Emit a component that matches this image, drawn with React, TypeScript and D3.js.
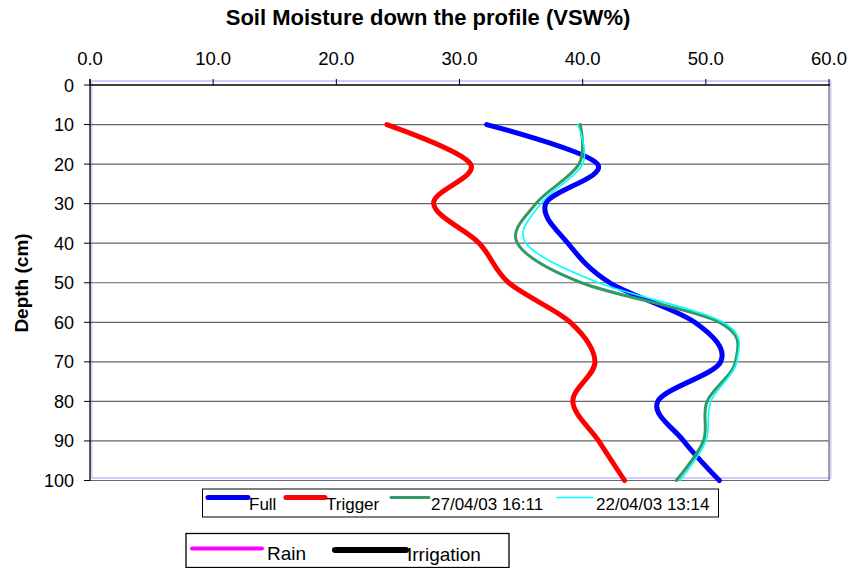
import React from 'react';
import { scaleLinear, line, curveCatmullRom, range } from 'd3';

// depth (cm) down the profile
const depths = [10, 20, 30, 40, 50, 60, 70, 80, 90, 100];

// VSW% readings
const full = [32.2, 41.2, 37.0, 38.8, 42.2, 49.1, 51.2, 46.1, 48.2, 51.1];
const trigger = [24.1, 30.9, 27.9, 31.6, 34.0, 39.0, 41.0, 39.2, 41.3, 43.4];
const read2704 = [39.8, 39.7, 36.2, 34.7, 39.9, 51.1, 52.4, 50.1, 49.8, 47.6];
const read2204 = [39.6, 40.0, 36.6, 35.4, 41.3, 51.4, 52.5, 50.4, 50.0, 47.9];

const xTicks = [0, 10, 20, 30, 40, 50, 60];
const yTicks = [0, 10, 20, 30, 40, 50, 60, 70, 80, 90, 100];

const seriesNames = ['Full', 'Trigger', '27/04/03 16:11', '22/04/03 13:14'];
const extraNames = ['Rain', 'Irrigation'];

const FONT = 'Arial, "Liberation Sans", sans-serif';

export default function App() {
  const width = 850;
  const height = 568;
  const left = 90;
  const right = 829;
  const top = 85;
  const bottom = 480.5;

  const x = scaleLinear().domain([0, 60]).range([left, right]);
  const y = scaleLinear().domain([0, 100]).range([top, bottom]);

  const makePath = (vals: number[]) =>
    line<number>()
      .x(d => x(d))
      .y((d, i) => y(depths[i]))
      .curve(curveCatmullRom.alpha(0))(vals) || '';

  const series = [
    { name: seriesNames[0], vals: full, color: '#0000ff', w: 5 },
    { name: seriesNames[1], vals: trigger, color: '#ff0000', w: 5 },
    { name: seriesNames[2], vals: read2704, color: '#339966', w: 3 },
    { name: seriesNames[3], vals: read2204, color: '#00ffff', w: 1.6 },
  ];

  // legend layout
  const leg1 = [
    { x1: 208, x2: 248, tx: 249 },
    { x1: 286, x2: 325, tx: 326 },
    { x1: 391, x2: 429, tx: 431 },
    { x1: 557, x2: 593, tx: 596 },
  ];
  const leg2 = [
    { x1: 192, x2: 262, tx: 267, color: '#ff00ff', w: 4, ly: 548.5, ty: 560 },
    { x1: 335, x2: 406, tx: 407, color: '#000000', w: 6, ly: 550, ty: 561 },
  ];

  return (
    <svg
      width={width}
      height={height}
      style={{ position: 'absolute', left: 0, top: 0, background: '#fff' }}
      fontFamily={FONT}
    >
      <rect x={0} y={0} width={width} height={height} fill="#fff" />

      {/* title */}
      <text x={428} y={25} textAnchor="middle" fontSize={22} fontWeight="bold" fill="#000">
        Soil Moisture down the profile (VSW%)
      </text>

      {/* plot area border */}
      <rect x={91.5} y={81} width={739} height={397} fill="none" stroke="#ccccff" strokeWidth={2} />

      {/* gridlines */}
      {range(1, yTicks.length).map(i => (
        <line
          key={'g' + i}
          x1={left}
          x2={right}
          y1={y(yTicks[i])}
          y2={y(yTicks[i])}
          stroke="#666"
          strokeWidth={1.2}
        />
      ))}
      <line x1={right} x2={right} y1={y(0)} y2={y(100)} stroke="#808080" strokeWidth={1.5} />

      {/* top value axis */}
      <line x1={left} x2={right + 1} y1={y(0)} y2={y(0)} stroke="#000" strokeWidth={1.3} />
      {xTicks.map(t => (
        <g key={'x' + t}>
          <line x1={x(t)} x2={x(t)} y1={y(0) - 6} y2={y(0)} stroke="#000" strokeWidth={1} />
          <text x={x(t)} y={65} textAnchor="middle" fontSize={18.5} fill="#000">
            {t.toFixed(1)}
          </text>
        </g>
      ))}

      {/* left depth axis */}
      <line x1={left} x2={left} y1={79} y2={y(100)} stroke="#000" strokeWidth={1.3} />
      {yTicks.map(t => (
        <g key={'y' + t}>
          <line x1={left - 6} x2={left} y1={y(t)} y2={y(t)} stroke="#000" strokeWidth={1} />
          <text x={74} y={y(t) + 6.5} textAnchor="end" fontSize={18} fill="#000">
            {t}
          </text>
        </g>
      ))}
      <text
        transform={`translate(28, 283) rotate(-90)`}
        textAnchor="middle"
        fontSize={19}
        fontWeight="bold"
        fill="#000"
      >
        Depth (cm)
      </text>

      {/* series */}
      {series.map(s => (
        <path
          key={s.name}
          d={makePath(s.vals)}
          fill="none"
          stroke={s.color}
          strokeWidth={s.w}
          strokeLinecap="round"
          strokeLinejoin="round"
        />
      ))}

      {/* legend 1 */}
      <rect x={202.5} y={489} width={516} height={28} fill="#fff" stroke="#000" strokeWidth={1} />
      {series.map((s, i) => (
        <g key={'l' + i}>
          <line
            x1={leg1[i].x1}
            x2={leg1[i].x2}
            y1={497.5}
            y2={497.5}
            stroke={s.color}
            strokeWidth={s.w}
            strokeLinecap="round"
          />
          <text x={leg1[i].tx} y={510} fontSize={17} fill="#000">
            {s.name}
          </text>
        </g>
      ))}

      {/* legend 2 */}
      <rect x={186} y={533.5} width={323} height={34} fill="#fff" stroke="#000" strokeWidth={1.3} />
      {extraNames.map((n, i) => (
        <g key={'e' + i}>
          <line
            x1={leg2[i].x1}
            x2={leg2[i].x2}
            y1={leg2[i].ly}
            y2={leg2[i].ly}
            stroke={leg2[i].color}
            strokeWidth={leg2[i].w}
            strokeLinecap="round"
          />
          <text x={leg2[i].tx} y={leg2[i].ty} fontSize={19} fill="#000">
            {n}
          </text>
        </g>
      ))}
    </svg>
  );
}
